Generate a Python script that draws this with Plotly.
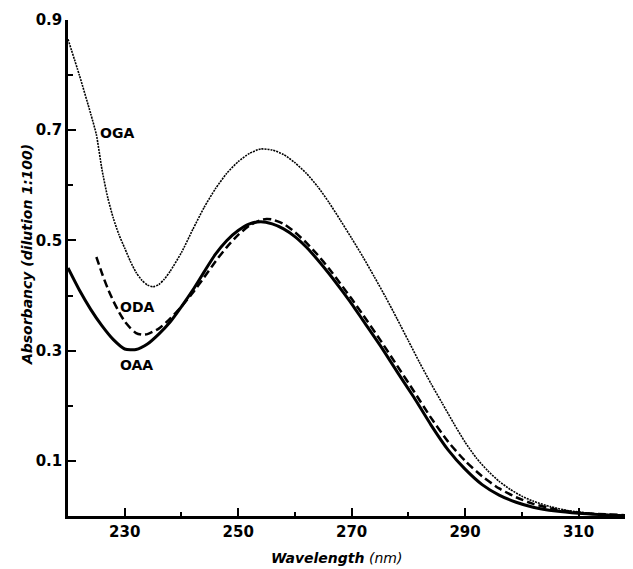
import plotly.graph_objects as go

# ---- data ----
oga_wl = [220, 222, 224, 225, 226, 227, 228, 229, 230, 231, 232, 233, 234, 235, 236, 237, 238, 240,
          242, 244, 246, 248, 250, 252, 254, 256, 258, 260, 262, 264, 266, 268, 270, 272, 274, 276,
          278, 280, 282, 284, 286, 288, 290, 292, 294, 296, 298, 300, 302, 305, 308, 312, 316, 319.5]
oga_abs = [0.865, 0.800, 0.730, 0.692, 0.628, 0.578, 0.540, 0.510, 0.486, 0.462, 0.442, 0.428, 0.419, 0.416,
           0.420, 0.430, 0.444, 0.478, 0.520, 0.560, 0.594, 0.622, 0.643, 0.658, 0.666, 0.664, 0.656, 0.641,
           0.622, 0.598, 0.569, 0.537, 0.504, 0.470, 0.434, 0.397, 0.358, 0.318, 0.278, 0.240, 0.204, 0.168,
           0.134, 0.105, 0.082, 0.063, 0.048, 0.036, 0.027, 0.017, 0.010, 0.005, 0.002, 0.0]

oda_wl = [225, 226, 227, 228, 229, 230, 231, 232, 233, 234, 236, 238, 240, 242, 244, 246, 248, 250, 252,
          254, 255, 256, 258, 260, 262, 264, 266, 268, 270, 272, 275, 278, 281, 284, 287, 290, 293, 296,
          299, 302, 306, 310, 315, 319.5]
oda_abs = [0.470, 0.440, 0.413, 0.390, 0.370, 0.353, 0.341, 0.332, 0.329, 0.330, 0.340, 0.358, 0.380, 0.405,
           0.433, 0.462, 0.488, 0.510, 0.527, 0.537, 0.539, 0.538, 0.530, 0.515, 0.496, 0.474, 0.449, 0.422,
           0.394, 0.365, 0.320, 0.273, 0.226, 0.178, 0.135, 0.100, 0.072, 0.050, 0.034, 0.022, 0.012, 0.006,
           0.003, 0.001]

oaa_wl = [220, 222, 224, 226, 228, 230, 232, 234, 236, 238, 240, 242, 244, 246, 248, 250, 252, 254, 256,
          258, 260, 262, 264, 266, 268, 270, 272, 275, 278, 281, 284, 287, 290, 293, 296, 299, 302, 306,
          310, 315, 319.5]
oaa_abs = [0.450, 0.410, 0.375, 0.345, 0.320, 0.303, 0.302, 0.312, 0.330, 0.352, 0.380, 0.410, 0.443, 0.475,
           0.500, 0.518, 0.530, 0.534, 0.530, 0.521, 0.507, 0.488, 0.465, 0.440, 0.413, 0.385, 0.355, 0.310,
           0.262, 0.215, 0.165, 0.120, 0.085, 0.057, 0.038, 0.025, 0.016, 0.009, 0.005, 0.002, 0.0]

labels = ["OGA", "ODA", "OAA"]
label_wl = [225.2, 228.9, 228.9]
label_abs = [0.695, 0.38, 0.274]

x_ticks = [230, 250, 270, 290, 310]
y_ticks = [0.1, 0.3, 0.5, 0.7, 0.9]

FONT = "DejaVu Sans"

fig = go.Figure()
fig.add_trace(go.Scatter(x=oga_wl, y=oga_abs, mode="lines", name="OGA",
                         line=dict(color="black", width=1.6, dash="2px,1px", shape="spline", smoothing=0.6)))
fig.add_trace(go.Scatter(x=oda_wl, y=oda_abs, mode="lines", name="ODA",
                         line=dict(color="black", width=2.5, dash="8px,4px", shape="spline", smoothing=0.6)))
fig.add_trace(go.Scatter(x=oaa_wl, y=oaa_abs, mode="lines", name="OAA",
                         line=dict(color="black", width=3, shape="spline", smoothing=0.6)))

for t, xv, yv in zip(labels, label_wl, label_abs):
    fig.add_annotation(x=xv, y=yv, text=t, showarrow=False, xanchor="left", yanchor="middle",
                       font=dict(family=FONT, size=14, color="black", weight="bold"))

fig.add_annotation(xref="paper", yref="paper", x=0.476, y=-0.085, xanchor="center", yanchor="middle",
                   text="<b><i>Wavelength</i></b> <i>(nm)</i>", showarrow=False,
                   font=dict(family=FONT, size=14, color="black"))
fig.add_annotation(xref="paper", yref="paper", x=0, xshift=-41, y=0.526, xanchor="center", yanchor="middle",
                   text="<b><i>Absorbancy (dilution 1:100)</i></b>", textangle=-90, showarrow=False,
                   font=dict(family=FONT, size=14, color="black"))

fig.update_xaxes(range=[220, 319.6], tickvals=x_ticks, ticktext=[str(v) for v in x_ticks],
                 ticks="inside", ticklen=8, tickwidth=2, tickcolor="black",
                 showline=True, linecolor="black", linewidth=2.5, showgrid=False, zeroline=False,
                 tickfont=dict(family=FONT, size=15, color="black", weight="bold"),
                 minor=dict(tickvals=[240, 260, 280, 300], ticks="inside", ticklen=4, tickwidth=2,
                            tickcolor="black", showgrid=False))
fig.update_yaxes(range=[0, 0.9], tickvals=y_ticks, ticktext=[f"{v:.1f}" for v in y_ticks],
                 ticks="inside", ticklen=8, tickwidth=2, tickcolor="black",
                 showline=True, linecolor="black", linewidth=2.5, showgrid=False, zeroline=False,
                 tickfont=dict(family=FONT, size=15, color="black", weight="bold"),
                 minor=dict(tickvals=[0.2, 0.4, 0.6, 0.8], ticks="inside", ticklen=5, tickwidth=2,
                            tickcolor="black", showgrid=False),
                 ticklabelstandoff=0)

# page body has an 8px margin, so the figure is made 8px smaller and shifted accordingly
fig.update_layout(width=625, height=561, margin=dict(l=60, r=0, t=12, b=53),
                  plot_bgcolor="white", paper_bgcolor="white", showlegend=False)

fig.write_html("out.html")
